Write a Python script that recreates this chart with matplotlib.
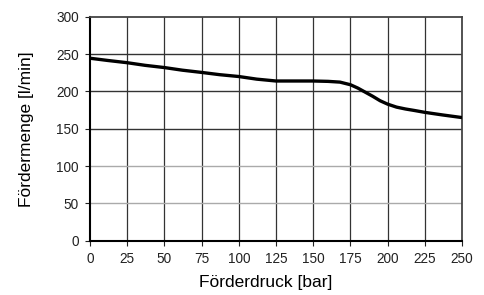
import matplotlib
matplotlib.use('Agg')
import matplotlib.pyplot as plt

# data
druck = [0, 12, 25, 37, 50, 62, 75, 87, 100, 112, 125, 137, 150, 160, 168, 175, 180, 185, 190, 195, 200, 206, 212, 218, 225, 237, 250]
menge = [244.5, 241.5, 238.5, 235, 232, 228.5, 225.5, 222.5, 220, 216.5, 214, 214, 214, 213.5, 212.5, 209, 204.5, 199, 193.5, 187.5, 183, 179, 176.5, 174.5, 172, 168.5, 165]

xticks = [0, 25, 50, 75, 100, 125, 150, 175, 200, 225, 250]
yticks = [0, 50, 100, 150, 200, 250, 300]

plt.rcParams['font.family'] = ['Liberation Sans', 'DejaVu Sans']

fig = plt.figure(figsize=(4.85, 2.95), dpi=100)
ax = fig.add_axes([0.1856, 0.184, 0.767, 0.759])

ax.plot(druck, menge, color='black', linewidth=2.4, solid_capstyle='butt', zorder=3)

ax.set_xlim(0, 250)
ax.set_ylim(0, 300)
ax.set_xticks(xticks)
ax.set_yticks(yticks)
ax.tick_params(labelsize=9.8, length=3.5, width=0.8, pad=4.5, colors='#222222')

# grid: vertical dark, lower horizontal lines lighter
for x in xticks[1:-1]:
    ax.axvline(x, color='#333333', linewidth=0.9, zorder=1)
for y in yticks[1:-1]:
    c = '#aaaaaa' if y <= 100 else '#333333'
    ax.axhline(y, color=c, linewidth=1.0, zorder=1)

for s in ['left', 'bottom']:
    ax.spines[s].set_linewidth(1.5)
    ax.spines[s].set_color('black')
for s in ['top', 'right']:
    ax.spines[s].set_linewidth(1.3)
    ax.spines[s].set_color('#444444')

ax.set_xlabel('Förderdruck [bar]', fontsize=12.5)
ax.set_ylabel('Fördermenge [l/min]', fontsize=12.5)
ax.xaxis.set_label_coords(0.473, -0.155)
ax.yaxis.set_label_coords(-0.15, 0.5)

fig.savefig('out.png', dpi=100)
